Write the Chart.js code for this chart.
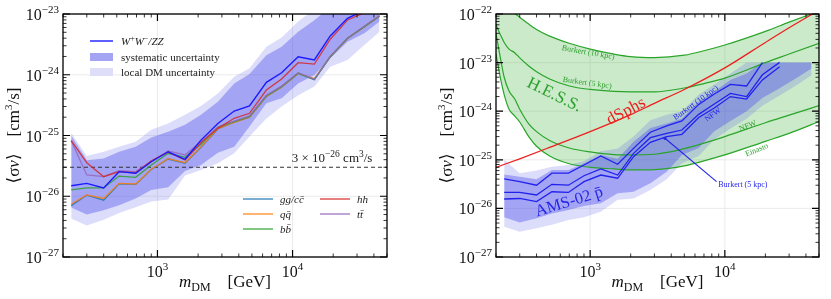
<!DOCTYPE html>
<html>
<head>
<meta charset="utf-8">
<script src="https://cdn.jsdelivr.net/npm/chart.js@4"></script>
<style>
  html, body { margin: 0; padding: 0; background: #fff; }
  #wrap { position: relative; width: 831px; height: 299px; }
  canvas { position: absolute; top: 0; }
</style>
</head>
<body>
<div id="wrap">
  <canvas id="left" width="415" height="299" style="left:0"></canvas>
  <canvas id="right" width="416" height="299" style="left:415px"></canvas>
</div>
<script>
// DM masses (GeV) of the grid used by all bands / AMS curves
const massGrid = [230, 300, 400, 520, 690, 900, 1200, 1600, 2100, 2800, 3700, 4800, 6400, 8300, 11000, 14500, 19000, 25500, 34000, 44000];

// ---- left panel: limits per channel
const limWW = [1.49e-26, 1.63e-26, 1.37e-26, 2.54e-26, 2.39e-26, 3.7e-26, 5.4e-26, 4.06e-26, 8.4e-26, 1.58e-25, 2.53e-25, 3.06e-25, 7.5e-25, 1.08e-24, 1.98e-24, 1.75e-24, 4.35e-24, 8.5e-24, 1.15e-23, 1.5e-23];
const limHH = [8.2e-26, 3.56e-26, 2.1e-26, 2.54e-26, 2.44e-26, 3.85e-26, 5.3e-26, 3.95e-26, 7.6e-26, 1.31e-25, 1.92e-25, 2.32e-25, 5.6e-25, 8.5e-25, 1.58e-24, 1.5e-24, 3.84e-24, 7.96e-24, 1.05e-23, 1.3e-23];
const limTT = [8.2e-26, 2.24e-26, 2.1e-26, 2.64e-26, 2.54e-26, 3.7e-26, 5.56e-26, 4.78e-26, 8.0e-26, 1.38e-25, 1.72e-25, 2.1e-25, 4.6e-25, 6.5e-25, 1.08e-24, 8.4e-25, 2.0e-24, 4.0e-24, 6.3e-24, 9.4e-24];
const limBB = [1.27e-26, 1.37e-26, 1.37e-26, 2.15e-26, 2.05e-26, 3.27e-26, 5.1e-26, 4.37e-26, 7.2e-26, 1.36e-25, 1.69e-25, 2.04e-25, 4.47e-25, 6.35e-25, 1.06e-24, 8.4e-25, 1.98e-24, 3.98e-24, 6.2e-24, 9.3e-24];
const limQQ = [7.45e-27, 1.05e-26, 9.2e-27, 1.63e-26, 1.59e-26, 2.78e-26, 4.15e-26, 3.56e-26, 6.5e-26, 1.3e-25, 1.65e-25, 2.0e-25, 4.4e-25, 6.3e-25, 1.05e-24, 8.6e-25, 1.98e-24, 3.98e-24, 6.2e-24, 9.3e-24];
const limGG = [7.0e-27, 1.04e-26, 8.6e-27, 1.6e-26, 1.57e-26, 2.75e-26, 4.1e-26, 3.5e-26, 6.4e-26, 1.28e-25, 1.66e-25, 2.0e-25, 4.4e-25, 6.3e-25, 1.05e-24, 8.3e-25, 1.96e-24, 3.95e-24, 6.2e-24, 9.2e-24];
const sysHi = [1.0e-25, 3.9e-26, 4.2e-26, 5.4e-26, 6.5e-26, 9.3e-26, 1.15e-25, 1.5e-25, 2.2e-25, 3.6e-25, 7.2e-25, 1.03e-24, 2.1e-24, 2.9e-24, 5.1e-24, 7.9e-24, 1.3e-23, 2e-23, 3e-23, 4e-23];
const sysLo = [6.5e-27, 5.0e-27, 5.9e-27, 7.1e-27, 9.2e-27, 1.27e-26, 1.4e-26, 2.6e-26, 3.27e-26, 5.2e-26, 6.5e-26, 1.4e-25, 3.4e-25, 4.1e-25, 7.2e-25, 9.9e-25, 1.87e-24, 3.5e-24, 4.8e-24, 7.5e-24];
const locHi = [1.1e-25, 4.6e-26, 5.4e-26, 6.5e-26, 7.9e-26, 1.24e-25, 1.58e-25, 2.2e-25, 3.06e-25, 4.9e-25, 9.3e-25, 1.28e-24, 2.9e-24, 4.1e-24, 7.5e-24, 1.2e-23, 2e-23, 3e-23, 4e-23, 5e-23];
const locLo = [4.3e-27, 3.3e-27, 4.1e-27, 5.3e-27, 6.6e-27, 8.2e-27, 8.8e-27, 2.2e-26, 2.7e-26, 3.5e-26, 5.1e-26, 9.6e-26, 1.9e-25, 3.0e-25, 4.6e-25, 6.4e-25, 1.36e-24, 1.75e-24, 3.1e-24, 5.1e-24];
const thermal = 3e-26;

// ---- right panel: AMS-02 antiproton limits
const amsB10 = [4.03e-26, 3.55e-26, 3.0e-26, 5.3e-26, 5.3e-26, 7.8e-26, 1.2e-25, 8.1e-26, 1.72e-25, 3.7e-25, 5.0e-25, 6.3e-25, 1.38e-24, 2.24e-24, 3.57e-24, 3.3e-24, 1.0e-23];
const amsNFW = [2.13e-26, 2.13e-26, 1.89e-26, 3.13e-26, 3.0e-26, 4.7e-26, 6.5e-26, 4.86e-26, 1.36e-25, 2.85e-25, 3.5e-25, 4.1e-25, 8.6e-25, 1.39e-24, 2.33e-24, 2.0e-24, 5.6e-24, 1.01e-23];
const amsB5 = [1.56e-26, 1.6e-26, 1.38e-26, 2.2e-26, 2.13e-26, 3.55e-26, 4.86e-26, 4.17e-26, 1.16e-25, 2.29e-25, 3.0e-25, 3.35e-25, 7.4e-25, 1.15e-24, 2.0e-24, 1.78e-24, 4.4e-24, 8.2e-24];
const amsSysHi = [5.0e-26, 4.5e-26, 4.0e-26, 6.2e-26, 6.2e-26, 8.5e-26, 1.26e-25, 1.05e-25, 2.35e-25, 4.5e-25, 5.6e-25, 7.1e-25, 1.58e-24, 2.5e-24, 4.4e-24, 6.0e-24, 1e-23, 1e-23, 1e-23, 1e-23];
const amsSysLo = [6.6e-27, 5.1e-27, 6.3e-27, 7.9e-27, 9.3e-27, 1.12e-26, 1.27e-26, 2.04e-26, 2.2e-26, 3.3e-26, 5.7e-26, 1.26e-25, 1.74e-25, 3.8e-25, 6.3e-25, 1.0e-24, 1.86e-24, 2.95e-24, 4.8e-24, 7.6e-24];
const amsLocHi = [1.0e-25, 5.3e-26, 6.0e-26, 7.2e-26, 7.8e-26, 9.4e-26, 1.5e-25, 1.7e-25, 3.0e-25, 6.5e-25, 8.5e-25, 1.0e-24, 2.2e-24, 3.5e-24, 6.0e-24, 1e-23, 1e-23, 1e-23, 1e-23, 1e-23];
const amsLocLo = [4.2e-27, 3.3e-27, 3.9e-27, 4.6e-27, 5.8e-27, 6.6e-27, 8.5e-27, 1.5e-26, 1.6e-26, 2.4e-26, 4.0e-26, 8.5e-26, 1.2e-25, 2.6e-25, 4.4e-25, 7e-25, 1.3e-24, 2.1e-24, 3.4e-24, 5.5e-24];

// ---- right panel: H.E.S.S. and dSphs
const hessMass = [200, 215, 230, 250, 275, 300, 350, 400, 500, 700, 1000, 1500, 2000, 3000, 5000, 7000, 10000, 20000, 30000, 50000];
const hessB10 = [4e-22, 2.6e-22, 1.9e-22, 1.3e-22, 1.03e-22, 8.6e-23, 6.2e-23, 4.8e-23, 3.5e-23, 2.5e-23, 1.9e-23, 1.5e-23, 1.33e-23, 1.27e-23, 1.42e-23, 1.75e-23, 2.3e-23, 4.4e-23, 6.8e-23, 1.15e-22];
const hessB5 = [6e-23, 3.8e-23, 2.6e-23, 1.9e-23, 1.6e-23, 1.25e-23, 8.5e-24, 6.5e-24, 4.6e-24, 3.3e-24, 2.8e-24, 2.55e-24, 2.5e-24, 2.5e-24, 3.0e-24, 3.7e-24, 4.8e-24, 1.0e-23, 1.5e-23, 2.5e-23];
const hessNFW = [4e-23, 1.3e-23, 5e-24, 2.6e-24, 1.8e-24, 1.1e-24, 5.5e-25, 3.8e-25, 2.5e-25, 1.75e-25, 1.45e-25, 1.28e-25, 1.26e-25, 1.3e-25, 1.7e-25, 2.2e-25, 3.0e-25, 5.8e-25, 8.3e-25, 1.3e-24];
const hessEin = [1.5e-23, 5e-24, 2.2e-24, 1.1e-24, 8e-25, 6e-25, 3e-25, 1.9e-25, 1.2e-25, 8.3e-26, 7e-26, 6.5e-26, 6.2e-26, 6.3e-26, 7.5e-26, 9.5e-26, 1.26e-25, 2.4e-25, 3.5e-25, 6.1e-25];
const dsphMass = [200, 300, 500, 1000, 2000, 3000, 5000, 10000, 20000, 30000, 50000];
const dsphLim = [7.0e-26, 1.05e-25, 1.8e-25, 3.8e-25, 8.5e-25, 1.45e-24, 2.8e-24, 7.8e-24, 2.6e-23, 5.2e-23, 1.2e-22];

const SERIF = '"Liberation Serif", "DejaVu Serif", serif';
const font = (size, style) => (style ? style + ' ' : '') + size + 'px ' + SERIF;
const pts = (xs, ys) => ys.map((y, i) => ({ x: xs[i], y }));
const minus = e => (e < 0 ? '\u2212' : '') + Math.abs(e);

// draw a run of text pieces [text, font, dy]
function rich(ctx, parts, x, y, align) {
    let w = 0;
    parts.forEach(p => { ctx.font = p[1]; w += ctx.measureText(p[0]).width; });
    let cx = align === 'right' ? x - w : align === 'center' ? x - w / 2 : x;
    ctx.textAlign = 'left';
    ctx.textBaseline = 'alphabetic';
    parts.forEach(p => {
        ctx.font = p[1];
        ctx.fillText(p[0], cx, y + (p[2] || 0));
        cx += ctx.measureText(p[0]).width;
    });
}

function note(ctx, text, px, py, deg, size, color, style) {
    ctx.save();
    ctx.translate(px, py);
    ctx.rotate(deg * Math.PI / 180);
    ctx.fillStyle = color;
    ctx.font = font(size, style);
    ctx.textAlign = 'center';
    ctx.textBaseline = 'middle';
    ctx.fillText(text, 0, 0);
    ctx.restore();
}

function logTicks(scale) {
    const out = [];
    const lo = Math.floor(Math.log10(scale.min)), hi = Math.ceil(Math.log10(scale.max));
    for (let e = lo; e <= hi; e++) {
        for (let k = 1; k <= 9; k++) {
            const v = k * Math.pow(10, e);
            if (v >= scale.min * 0.999 && v <= scale.max * 1.001) out.push({ v, major: k === 1, e });
        }
    }
    return out;
}

const axesDeco = {
    id: 'axesDeco',
    beforeDraw(chart) {
        const { ctx, chartArea: a, scales: { x, y } } = chart;
        ctx.save();
        ctx.strokeStyle = '#ebebeb';
        ctx.lineWidth = 1;
        logTicks(x).filter(t => t.major).forEach(t => {
            const p = x.getPixelForValue(t.v);
            ctx.beginPath(); ctx.moveTo(p, a.top); ctx.lineTo(p, a.bottom); ctx.stroke();
        });
        logTicks(y).filter(t => t.major).forEach(t => {
            const p = y.getPixelForValue(t.v);
            ctx.beginPath(); ctx.moveTo(a.left, p); ctx.lineTo(a.right, p); ctx.stroke();
        });
        ctx.restore();
    },
    afterDraw(chart) {
        const { ctx, chartArea: a, scales: { x, y } } = chart;
        ctx.save();
        ctx.strokeStyle = '#000';
        logTicks(x).forEach(t => {
            const p = x.getPixelForValue(t.v);
            const len = t.major ? 7 : 3.5;
            ctx.lineWidth = t.major ? 1.2 : 0.8;
            ctx.beginPath();
            ctx.moveTo(p, a.bottom); ctx.lineTo(p, a.bottom - len);
            ctx.moveTo(p, a.top); ctx.lineTo(p, a.top + len);
            ctx.stroke();
        });
        logTicks(y).forEach(t => {
            const p = y.getPixelForValue(t.v);
            const len = t.major ? 7 : 3.5;
            ctx.lineWidth = t.major ? 1.2 : 0.8;
            ctx.beginPath();
            ctx.moveTo(a.left, p); ctx.lineTo(a.left + len, p);
            ctx.moveTo(a.right, p); ctx.lineTo(a.right - len, p);
            ctx.stroke();
        });
        ctx.lineWidth = 1.3;
        ctx.strokeRect(a.left, a.top, a.right - a.left, a.bottom - a.top);

        // tick labels
        ctx.fillStyle = '#111';
        logTicks(x).filter(t => t.major).forEach(t => {
            rich(ctx, [['10', font(16)], [minus(t.e), font(11), -7]], x.getPixelForValue(t.v), a.bottom + 20, 'center');
        });
        logTicks(y).filter(t => t.major).forEach(t => {
            rich(ctx, [['10', font(16)], [minus(t.e), font(11), -7]], a.left - 4, y.getPixelForValue(t.v) + 6, 'right');
        });

        // axis titles
        rich(ctx, [['m', font(17, 'italic')], ['DM', font(12), 4], ['    [GeV]', font(17)]],
            (a.left + a.right) / 2, a.bottom + 30, 'center');
        ctx.save();
        ctx.translate(a.left - 44, (a.top + a.bottom) / 2);
        ctx.rotate(-Math.PI / 2);
        rich(ctx, [['\u27E8\u03C3', font(17)], ['v', font(17, 'italic')], ['\u27E9', font(17)],
            ['    [cm', font(17)], ['3', font(11), -7], ['/s]', font(17)]], 0, 0, 'center');
        ctx.restore();
        ctx.restore();
    }
};

const leftNotes = {
    id: 'leftNotes',
    afterDatasetsDraw(chart) {
        const { ctx, chartArea: a, scales: { x, y } } = chart;
        ctx.save();
        // thermal relic label
        ctx.fillStyle = '#222';
        rich(ctx, [['3 \u00D7 10', font(13)], ['\u221226', font(9.5), -5], [' cm', font(13)], ['3', font(9.5), -5], ['/s', font(13)]],
            x.getPixelForValue(39000), y.getPixelForValue(thermal) - 5, 'right');

        // upper-left legend
        const lx = a.left + 27;
        ctx.strokeStyle = '#1a1aff'; ctx.lineWidth = 1.4;
        ctx.beginPath(); ctx.moveTo(lx, a.top + 27); ctx.lineTo(lx + 23, a.top + 27); ctx.stroke();
        ctx.fillStyle = 'rgb(220,220,251)';
        ctx.fillRect(lx, a.top + 39, 23, 8);
        ctx.fillStyle = 'rgb(164,164,245)';
        ctx.fillRect(lx, a.top + 39, 23, 8);
        ctx.fillStyle = 'rgb(222,222,251)';
        ctx.fillRect(lx, a.top + 54, 23, 8);
        ctx.fillStyle = '#222';
        rich(ctx, [['W', font(11, 'italic')], ['+', font(8), -4], ['W', font(11, 'italic')], ['\u2212', font(8), -4], ['/ZZ', font(11, 'italic')]], lx + 31, a.top + 31, 'left');
        rich(ctx, [['systematic uncertainty', font(11)]], lx + 31, a.top + 47, 'left');
        rich(ctx, [['local DM uncertainty', font(11)]], lx + 31, a.top + 62, 'left');

        // lower-right legend
        const rows = [
            [['gg/cc\u0304'], 'rgba(31,119,180,0.85)', 0, 0],
            [['qq\u0304'], 'rgba(255,127,14,0.85)', 0, 1],
            [['bb\u0304'], 'rgba(44,160,44,0.85)', 0, 2],
            [['hh'], 'rgba(214,39,40,0.85)', 1, 0],
            [['tt\u0304'], 'rgba(148,103,189,0.85)', 1, 1]
        ];
        rows.forEach(r => {
            const cx = a.left + 180 + r[2] * 77;
            const cy = a.top + 185 + r[3] * 15;
            ctx.strokeStyle = r[1]; ctx.lineWidth = 1.4;
            ctx.beginPath(); ctx.moveTo(cx, cy); ctx.lineTo(cx + 30, cy); ctx.stroke();
            ctx.fillStyle = '#222';
            rich(ctx, [[r[0][0], font(11, 'italic')]], cx + 37, cy + 4, 'left');
        });
        ctx.restore();
    }
};

const rightNotes = {
    id: 'rightNotes',
    afterDatasetsDraw(chart) {
        const { ctx, scales: { x, y } } = chart;
        const P = (m, v) => [x.getPixelForValue(m), y.getPixelForValue(v)];
        const green = '#2ca02c', blue = '#2525e6';
        let p;
        p = P(541, 2.15e-24); note(ctx, 'H.E.S.S.', p[0], p[1], 26, 17, green);
        p = P(1848, 9.9e-25); note(ctx, 'dSphs', p[0], p[1], -28, 17, '#ee1c1c');
        p = P(699, 1.35e-26); note(ctx, 'AMS-02 p\u0304', p[0], p[1], -17, 16.5, blue);
        p = P(967, 1.6e-23); note(ctx, 'Burkert (10 kpc)', p[0], p[1], 10, 8, green);
        p = P(950, 3.8e-24); note(ctx, 'Burkert (5 kpc)', p[0], p[1], 8, 8, green);
        p = P(14800, 4.95e-25); note(ctx, 'NFW', p[0], p[1], -22, 8, green);
        p = P(17250, 1.58e-25); note(ctx, 'Einasto', p[0], p[1], -22, 8, green);
        p = P(6100, 1.48e-24); note(ctx, 'Burkert (10 kpc)', p[0], p[1], -36, 8, blue);
        p = P(8150, 8.4e-25); note(ctx, 'NFW', p[0], p[1], -36, 8, blue);
        p = P(13600, 3.0e-26); note(ctx, 'Burkert (5 kpc)', p[0], p[1], 0, 8, blue);
        const a0 = P(8680, 3.55e-26), a1 = P(3590, 2.77e-25);
        ctx.save();
        ctx.strokeStyle = blue; ctx.lineWidth = 1.1;
        ctx.beginPath(); ctx.moveTo(a0[0], a0[1]); ctx.lineTo(a1[0], a1[1]); ctx.stroke();
        ctx.fillStyle = blue;
        ctx.beginPath(); ctx.arc(a1[0], a1[1], 1.6, 0, Math.PI * 2); ctx.fill();
        ctx.restore();
    }
};

function lineSet(data, color, width, extra) {
    return Object.assign({ data, borderColor: color, borderWidth: width, pointRadius: 0, fill: false }, extra || {});
}
function bandSet(data, color, fill) {
    return { data, borderWidth: 0, borderColor: 'rgba(0,0,0,0)', backgroundColor: color, pointRadius: 0, fill };
}

function options(ymin, ymax, pad) {
    return {
        responsive: false,
        animation: false,
        events: [],
        layout: { padding: pad },
        plugins: { legend: { display: false }, tooltip: { enabled: false }, filler: { drawTime: 'beforeDatasetsDraw' } },
        scales: {
            x: { type: 'logarithmic', min: 200, max: 50000, display: false },
            y: { type: 'logarithmic', min: ymin, max: ymax, display: false }
        }
    };
}

const LIGHT = 'rgba(80,80,235,0.2)', DARK = 'rgba(80,80,235,0.4)';

new Chart(document.getElementById('left'), {
    type: 'line',
    data: {
        datasets: [
            lineSet(pts(massGrid, limWW), '#1a1aff', 1.4),
            lineSet(pts(massGrid, limHH), 'rgba(214,39,40,0.85)', 1.3),
            lineSet(pts(massGrid, limTT), 'rgba(148,103,189,0.85)', 1.3),
            lineSet(pts(massGrid, limBB), 'rgba(44,160,44,0.85)', 1.3),
            lineSet(pts(massGrid, limQQ), 'rgba(255,127,14,0.85)', 1.3),
            lineSet(pts(massGrid, limGG), 'rgba(31,119,180,0.85)', 1.3),
            lineSet([{ x: 200, y: thermal }, { x: 50000, y: thermal }], '#333', 1.1, { borderDash: [4, 3] }),
            bandSet(pts(massGrid, sysHi), DARK, '+1'),
            bandSet(pts(massGrid, sysLo), DARK, false),
            bandSet(pts(massGrid, locHi), LIGHT, '+1'),
            bandSet(pts(massGrid, locLo), LIGHT, false)
        ]
    },
    options: options(1e-27, 1e-23, { left: 63, right: 28, top: 14, bottom: 42 }),
    plugins: [axesDeco, leftNotes]
});

const HESS_GREEN = '#2aa52a';
new Chart(document.getElementById('right'), {
    type: 'line',
    data: {
        datasets: [
            lineSet(pts(massGrid, amsB10), '#2222ee', 1.3),
            lineSet(pts(massGrid, amsNFW), '#2222ee', 1.3),
            lineSet(pts(massGrid, amsB5), '#2222ee', 1.3),
            lineSet(pts(dsphMass, dsphLim), '#ee2020', 1.3, { cubicInterpolationMode: 'monotone' }),
            bandSet(pts(massGrid, amsSysHi), DARK, '+1'),
            bandSet(pts(massGrid, amsSysLo), DARK, false),
            bandSet(pts(massGrid, amsLocHi), LIGHT, '+1'),
            bandSet(pts(massGrid, amsLocLo), LIGHT, false),
            lineSet(pts(hessMass, hessB10), HESS_GREEN, 1.2, { cubicInterpolationMode: 'monotone', fill: '+3', backgroundColor: 'rgba(44,170,44,0.25)' }),
            lineSet(pts(hessMass, hessB5), HESS_GREEN, 1.2, { cubicInterpolationMode: 'monotone' }),
            lineSet(pts(hessMass, hessNFW), HESS_GREEN, 1.2, { cubicInterpolationMode: 'monotone' }),
            lineSet(pts(hessMass, hessEin), HESS_GREEN, 1.2, { cubicInterpolationMode: 'monotone' })
        ]
    },
    options: options(1e-27, 1e-22, { left: 81, right: 12, top: 14, bottom: 42 }),
    plugins: [axesDeco, rightNotes]
});
</script>
</body>
</html>
